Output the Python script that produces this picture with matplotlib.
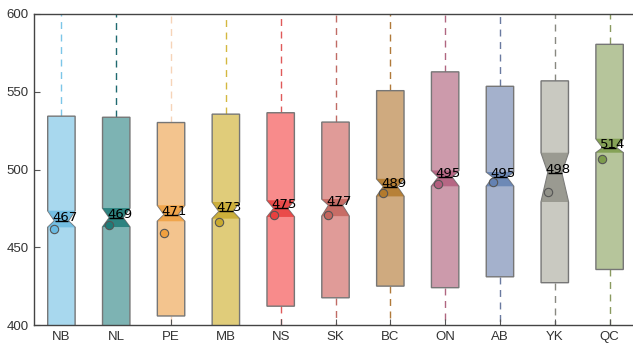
import matplotlib
matplotlib.use("Agg")
import matplotlib.pyplot as plt
from matplotlib.patches import Polygon

categories = ["NB", "NL", "PE", "MB", "NS", "SK", "BC", "ON", "AB", "YK", "QC"]
medians = [467, 469, 471, 473, 475, 477, 489, 495, 495, 498, 514]
means = [461.8, 464.1, 459.4, 466.2, 471.0, 471.0, 485.1, 490.9, 491.9, 485.5, 506.9]
q1 = [390, 390, 405.8, 390, 412.1, 417.5, 425.0, 424.0, 431.0, 427.2, 435.7]
q3 = [534.3, 533.6, 530.2, 535.6, 536.5, 530.5, 550.7, 562.8, 553.5, 557.0, 580.5]
ci_low = [462.8, 463.0, 466.7, 468.4, 469.5, 470.0, 482.7, 489.2, 489.2, 479.1, 510.8]
ci_high = [473.5, 475.2, 477.0, 479.1, 480.2, 481.0, 494.0, 499.4, 498.4, 510.8, 519.8]
whisker_low = [350, 350, 360, 350, 370, 375, 380, 380, 385, 380, 390]
whisker_high = [640, 640, 640, 640, 640, 640, 640, 640, 640, 640, 640]

body_colors = ['#a8d8ee', '#7db3b3', '#f3c48e', '#e0cc7a', '#f88b8b', '#e09b98',
               '#cfaa7f', '#cc9aab', '#a4b1cc', '#c9c9c1', '#b6c59b']
notch_colors = ['#6bbbe2', '#1f7b78', '#f0a040', '#c9aa30', '#e8403f', '#c4655e',
                '#b37a2c', '#b35f7e', '#6482b3', '#929289', '#7d9c4c']
whisker_colors = ['#7cc6e8', '#1f6a70', '#f6d4b8', '#d4b840', '#e05a5a', '#c06b65',
                  '#b07a3a', '#b06680', '#6a7aa0', '#888880', '#8a9a60']

fig = plt.figure(figsize=(6.33, 3.43), dpi=100)
ax = fig.add_axes([34 / 633, 18 / 343, 603 / 633, 311 / 343])

positions = list(range(1, len(categories) + 1))
width = 0.5
stats = []
for i, c in enumerate(categories):
    stats.append(dict(label=c, med=medians[i], q1=q1[i], q3=q3[i],
                      cilo=ci_low[i], cihi=ci_high[i],
                      whislo=whisker_low[i], whishi=whisker_high[i],
                      mean=means[i], fliers=[]))

bp = ax.bxp(stats, positions=positions, widths=width, shownotches=True,
            patch_artist=True, showcaps=False, showmeans=False,
            boxprops=dict(edgecolor='#767676', linewidth=1.0),
            medianprops=dict(color='black', linewidth=1.0),
            whiskerprops=dict(linestyle=(0, (5, 4)), linewidth=1.0))

for i, box in enumerate(bp['boxes']):
    box.set_facecolor(body_colors[i])
    box.set_zorder(2)
for i in range(len(categories)):
    for w in bp['whiskers'][2 * i:2 * i + 2]:
        w.set_color(whisker_colors[i])
        w.set_zorder(1)
for m in bp['medians']:
    m.set_zorder(4)

for i, p in enumerate(positions):
    hw = width / 2
    qw = width / 4
    verts = [(p - hw, ci_low[i]), (p + hw, ci_low[i]), (p + qw, medians[i]),
             (p + hw, ci_high[i]), (p - hw, ci_high[i]), (p - qw, medians[i])]
    ax.add_patch(Polygon(verts, closed=True, facecolor=notch_colors[i],
                         edgecolor='none', alpha=0.85, zorder=3))
    ax.plot([p - 0.13], [means[i]], marker='o', ms=6,
            markerfacecolor=notch_colors[i], markeredgecolor='#555555',
            markeredgewidth=0.8, zorder=5, linestyle='none')
    ax.text(p + 0.06, medians[i], f"{medians[i]}", ha='center', va='baseline',
            fontsize=9.5, color='black', zorder=6)

ax.set_xlim(0.5, len(categories) + 0.5)
ax.set_ylim(400, 600)
ax.set_yticks([400, 450, 500, 550, 600])
ax.set_xticks(positions)
ax.set_xticklabels(categories)
for lab in ax.get_xticklabels() + ax.get_yticklabels():
    lab.set_fontfamily('Liberation Sans')
    lab.set_fontsize(9.5)
    lab.set_color('#333333')
ax.tick_params(direction='in', length=4, width=0.8, colors='#555555',
               labelcolor='#333333', pad=4)
for s in ax.spines.values():
    s.set_color('#444444')
    s.set_linewidth(1.0)

fig.savefig("out.png", dpi=100)
